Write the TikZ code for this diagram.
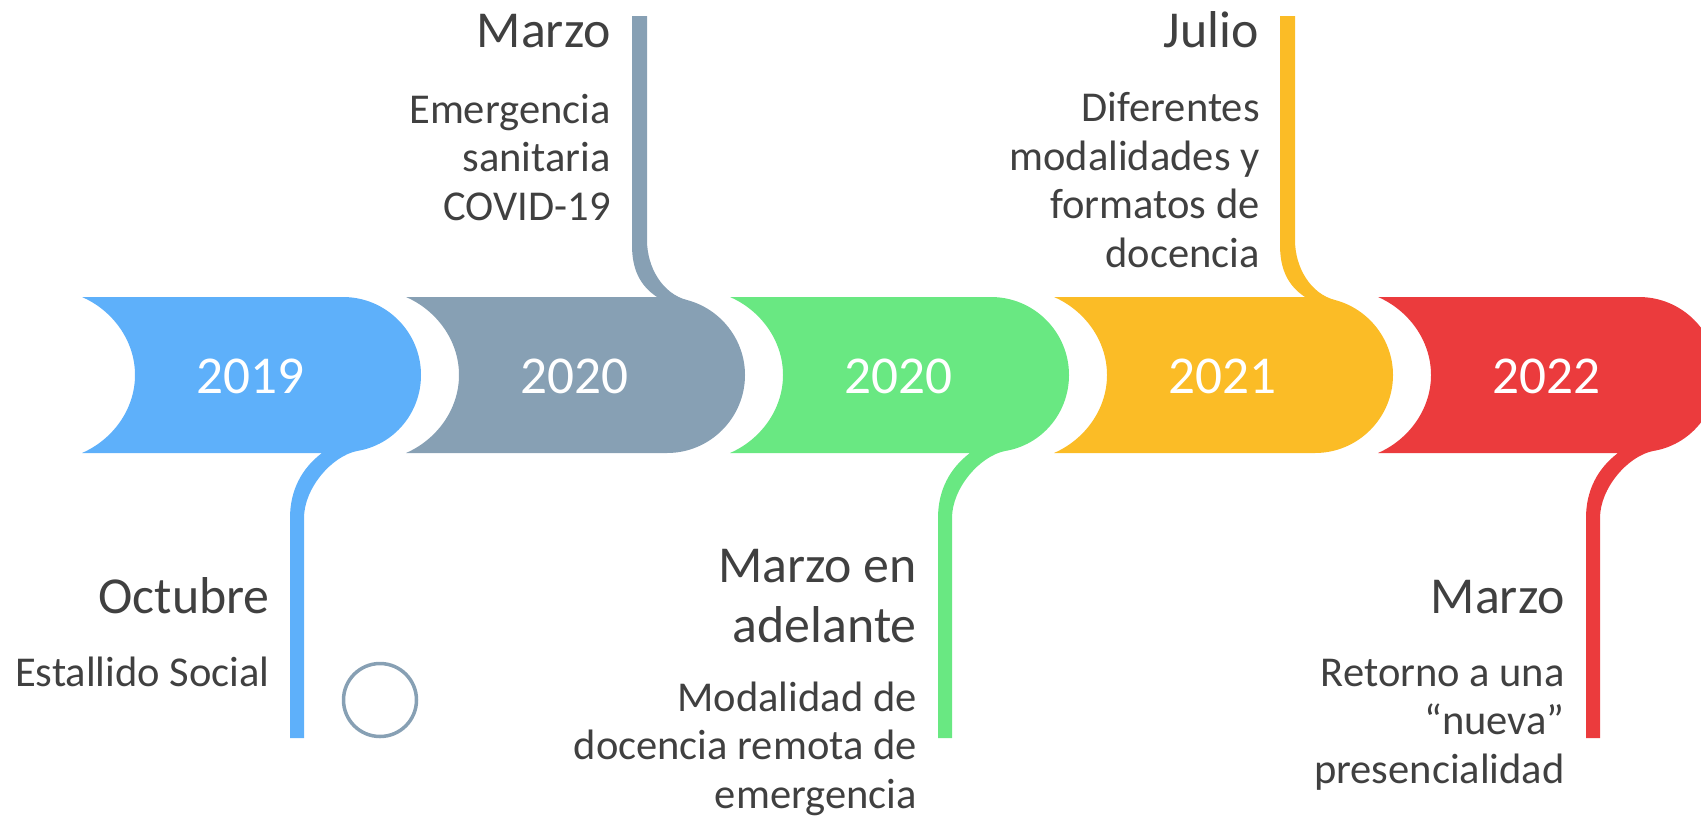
\documentclass[tikz,border=0pt]{standalone}
\usepackage{fontspec}
\setmainfont{Carlito}
\definecolor{yearBlue}{RGB}{94,176,250}
\definecolor{yearGray}{RGB}{135,160,180}
\definecolor{yearGreen}{RGB}{105,232,130}
\definecolor{yearYellow}{RGB}{251,188,38}
\definecolor{yearRed}{RGB}{235,59,61}
\definecolor{textGray}{RGB}{64,64,64}
\begin{document}
\begin{tikzpicture}
[x=0.02cm,y=-0.02cm,
  yearText/.style={text=white,inner sep=0pt,font=\fontsize{30.3}{32}\selectfont},
  headText/.style={text=textGray,inner sep=0pt,anchor=base east,align=right,
    font=\fontsize{29.5}{33.6}\selectfont},
  descText/.style={text=textGray,inner sep=0pt,anchor=base east,align=right,
    font=\fontsize{24.2}{27.6}\selectfont},
  ringDecorate/.style={shape=circle,draw=yearGray,line width=2pt,
    minimum size=1.46cm,inner sep=0pt}]
\path[use as bounding box] (0,0) rectangle (1701,822);
\clip (0,0) rectangle (1701,822);
%% banners with the tail going down
\foreach \x/\col in {82/yearBlue, 730/yearGreen, 1378/yearRed}
{
  \pgfmathsetmacro{\c}{\x+261}
  \fill[\col] (\x,297) -- (\c,297)
    .. controls (\c+43,297) and (\c+78,332) .. (\c+78,375)
    .. controls (\c+78,413) and (\c+51,445) .. (\c+14,451)
    .. controls (\c-11,456) and (\c-39,488) .. (\c-39,518)
    -- (\c-39,738) -- (\c-53,738) -- (\c-53,518)
    .. controls (\c-53,490) and (\c-41,468) .. (\c-21,453)
    -- (\x,453)
    .. controls (\x+30,440) and (\x+53,410) .. (\x+53,375)
    .. controls (\x+53,340) and (\x+30,310) .. (\x,297) -- cycle;
}
%% banners with the tail going up
\foreach \x/\col in {406/yearGray, 1054/yearYellow}
{
  \pgfmathsetmacro{\c}{\x+261}
  \fill[\col] (\x,297) -- (\c-10,297)
    .. controls (\c-28,285) and (\c-35,268) .. (\c-35,245)
    -- (\c-35,16) -- (\c-20,16) -- (\c-20,240)
    .. controls (\c-20,268) and (\c-4,294) .. (\c+20,300)
    .. controls (\c+54,309) and (\c+78,340) .. (\c+78,375)
    .. controls (\c+78,418) and (\c+43,453) .. (\c,453)
    -- (\x,453)
    .. controls (\x+30,440) and (\x+53,410) .. (\x+53,375)
    .. controls (\x+53,340) and (\x+30,310) .. (\x,297) -- cycle;
}
%% years
\foreach \name/\x/\yr in {y2019/250/2019, y2020a/574/2020, y2020b/898/2020,
  y2021/1222/2021, y2022/1546/2022}
{
  \node (\name) at (\x,376) [yearText] {\yr};
}
%% labels (base = last line)
\node (octubre) at (270,613) [headText] {Octubre};
\node (estallido) at (270,686) [descText] {Estallido Social};
\node (marzoA) at (611,47) [headText] {Marzo};
\node (emergencia) at (611,220) [descText] {Emergencia\\sanitaria\\COVID-19};
\node (marzoEn) at (917,642) [headText] {Marzo en\\adelante};
\node (modalidad) at (917,808) [descText] {Modalidad de\\docencia remota de\\emergencia};
\node (julio) at (1259,47) [headText] {Julio};
\node (formatos) at (1260,267) [descText] {Diferentes\\modalidades y\\formatos de\\docencia};
\node (marzoB) at (1565,613) [headText] {Marzo};
\node (retorno) at (1565,783) [descText] {Retorno a una\\“nueva”\\presencialidad};
\node (ring) at (380,700) [ringDecorate] {};
\end{tikzpicture}
\end{document}
